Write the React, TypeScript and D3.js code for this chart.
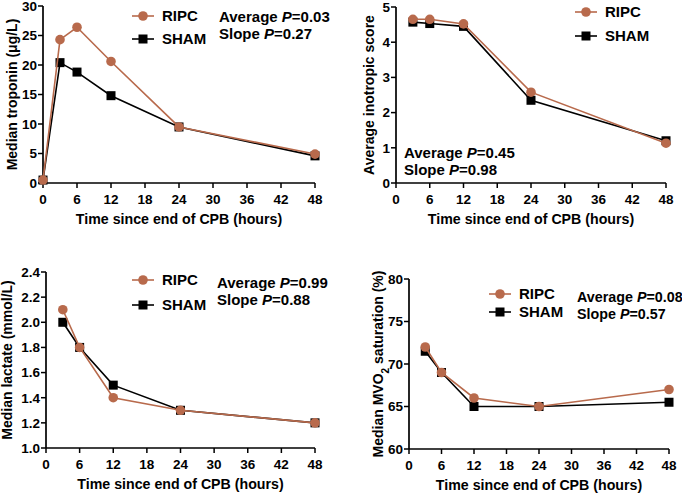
import * as d3 from "d3";

const hours = [0, 3, 6, 12, 24, 48];
const hoursNoZero = [3, 6, 12, 24, 48];
const xTicks = [0, 6, 12, 18, 24, 30, 36, 42, 48];

// troponin (ug/L)
const tropRipc = [0.5, 24.3, 26.4, 20.6, 9.5, 4.9];
const tropSham = [0.5, 20.4, 18.8, 14.8, 9.5, 4.6];
const tropTicks = [0, 5, 10, 15, 20, 25, 30];

// inotropic score
const inoRipc = [4.65, 4.65, 4.52, 2.58, 1.13];
const inoSham = [4.57, 4.53, 4.45, 2.35, 1.2];
const inoTicks = [0, 1, 2, 3, 4, 5];

// lactate (mmol/L)
const lacRipc = [2.1, 1.8, 1.4, 1.3, 1.2];
const lacSham = [2.0, 1.8, 1.5, 1.3, 1.2];
const lacTicks = [1.0, 1.2, 1.4, 1.6, 1.8, 2.0, 2.2, 2.4];

// MVO2 saturation (%)
const mvoRipc = [72, 69, 66, 65, 67];
const mvoSham = [71.5, 69, 65, 65, 65.5];
const mvoTicks = [60, 65, 70, 75, 80];

const RIPC = "#b86a4c";
const FONT = "'Liberation Sans', Arial, sans-serif";

type Box = { x0: number; x1: number; y0: number; y1: number };

function Panel(props: {
  box: Box;
  xs: number[];
  ripc: number[];
  sham: number[];
  yTicks: number[];
  yFmt: (v: number) => string;
  yTitle: any;
  yTitleX: number;
  legend: { x: number; y1: number; y2: number };
  note: { x: number; y: number; avg: string; slope: string; size?: number };
}) {
  const { box, xs, ripc, sham, yTicks, yFmt, legend, note } = props;
  const x = d3.scaleLinear().domain([0, 48]).range([box.x0, box.x1]);
  const y = d3
    .scaleLinear()
    .domain([yTicks[0], yTicks[yTicks.length - 1]])
    .range([box.y1, box.y0]);
  const line = d3
    .line<number>()
    .x((_, i) => x(xs[i]))
    .y((d) => y(d));
  const sq = 9;
  const r = 4.8;
  const ns = note.size || 15;
  return (
    <g fontFamily={FONT} fontWeight="bold">
      {/* axes */}
      <line x1={box.x0} x2={box.x0} y1={box.y0} y2={box.y1} stroke="#000" strokeWidth={1.7} />
      <line x1={box.x0} x2={box.x1} y1={box.y1} y2={box.y1} stroke="#000" strokeWidth={1.7} />
      {yTicks.map((t) => (
        <g key={"y" + t}>
          <line x1={box.x0 - 5} x2={box.x0} y1={y(t)} y2={y(t)} stroke="#000" strokeWidth={1.5} />
          <text x={box.x0 - 6} y={y(t)} dy="0.36em" textAnchor="end" fontSize={13.5}>
            {yFmt(t)}
          </text>
        </g>
      ))}
      {xTicks.map((t) => (
        <g key={"x" + t}>
          <line x1={x(t)} x2={x(t)} y1={box.y1} y2={box.y1 + 5} stroke="#000" strokeWidth={1.5} />
          <text x={x(t)} y={box.y1 + 21} textAnchor="middle" fontSize={13.5}>
            {t}
          </text>
        </g>
      ))}
      <text x={(box.x0 + box.x1) / 2} y={box.y1 + 41} textAnchor="middle" fontSize={14.2}>
        Time since end of CPB (hours)
      </text>
      <text
        transform={`translate(${props.yTitleX},${(box.y0 + box.y1) / 2}) rotate(-90)`}
        textAnchor="middle"
        dy="0.36em"
        fontSize={14}
      >
        {props.yTitle}
      </text>

      {/* series */}
      <path d={line(sham) || ""} fill="none" stroke="#000" strokeWidth={1.6} />
      {sham.map((v, i) => (
        <rect key={"s" + i} x={x(xs[i]) - sq / 2} y={y(v) - sq / 2} width={sq} height={sq} fill="#000" />
      ))}
      <path d={line(ripc) || ""} fill="none" stroke={RIPC} strokeWidth={1.6} />
      {ripc.map((v, i) => (
        <circle key={"r" + i} cx={x(xs[i])} cy={y(v)} r={r} fill={RIPC} />
      ))}

      {/* legend */}
      <line x1={legend.x - 11} x2={legend.x + 11} y1={legend.y1} y2={legend.y1} stroke={RIPC} strokeWidth={1.6} />
      <circle cx={legend.x} cy={legend.y1} r={r} fill={RIPC} />
      <text x={legend.x + 19} y={legend.y1} dy="0.36em" fontSize={15}>RIPC</text>
      <line x1={legend.x - 11} x2={legend.x + 11} y1={legend.y2} y2={legend.y2} stroke="#000" strokeWidth={1.6} />
      <rect x={legend.x - sq / 2} y={legend.y2 - sq / 2} width={sq} height={sq} fill="#000" />
      <text x={legend.x + 19} y={legend.y2} dy="0.36em" fontSize={15}>SHAM</text>

      {/* p-values */}
      <text x={note.x} y={note.y} dy="0.36em" fontSize={ns}>
        Average <tspan fontStyle="italic">P</tspan>={note.avg}
      </text>
      <text x={note.x} y={note.y + 17} dy="0.36em" fontSize={ns}>
        Slope <tspan fontStyle="italic">P</tspan>={note.slope}
      </text>
    </g>
  );
}

export default function App() {
  return (
    <div style={{ position: "absolute", left: 0, top: 0 }}>
      <svg width={682} height={494} style={{ display: "block", background: "#fff" }}>
        <Panel
          box={{ x0: 43, x1: 315, y0: 6, y1: 183 }}
          xs={hours}
          ripc={tropRipc}
          sham={tropSham}
          yTicks={tropTicks}
          yFmt={(v) => String(v)}
          yTitle="Median troponin (μg/L)"
          yTitleX={12}
          legend={{ x: 143, y1: 16, y2: 39 }}
          note={{ x: 219, y: 17, avg: "0.03", slope: "0.27" }}
        />
        <Panel
          box={{ x0: 396, x1: 666, y0: 7, y1: 183 }}
          xs={hoursNoZero}
          ripc={inoRipc}
          sham={inoSham}
          yTicks={inoTicks}
          yFmt={(v) => String(v)}
          yTitle="Average inotropic score"
          yTitleX={369}
          legend={{ x: 586, y1: 12, y2: 36 }}
          note={{ x: 404, y: 153, avg: "0.45", slope: "0.98" }}
        />
        <Panel
          box={{ x0: 46, x1: 315, y0: 272, y1: 448 }}
          xs={hoursNoZero}
          ripc={lacRipc}
          sham={lacSham}
          yTicks={lacTicks}
          yFmt={(v) => v.toFixed(1)}
          yTitle="Median lactate (mmol/L)"
          yTitleX={7}
          legend={{ x: 143, y1: 280, y2: 305 }}
          note={{ x: 217, y: 283, avg: "0.99", slope: "0.88" }}
        />
        <Panel
          box={{ x0: 409, x1: 669, y0: 279, y1: 449 }}
          xs={hoursNoZero}
          ripc={mvoRipc}
          sham={mvoSham}
          yTicks={mvoTicks}
          yFmt={(v) => String(v)}
          yTitle={
            <>
              Median MVO<tspan baselineShift="sub" fontSize={10}>2</tspan> saturation (%)
            </>
          }
          yTitleX={378}
          legend={{ x: 500, y1: 294, y2: 312 }}
          note={{ x: 577, y: 297, avg: "0.08", slope: "0.57", size: 14.3 }}
        />
      </svg>
    </div>
  );
}
